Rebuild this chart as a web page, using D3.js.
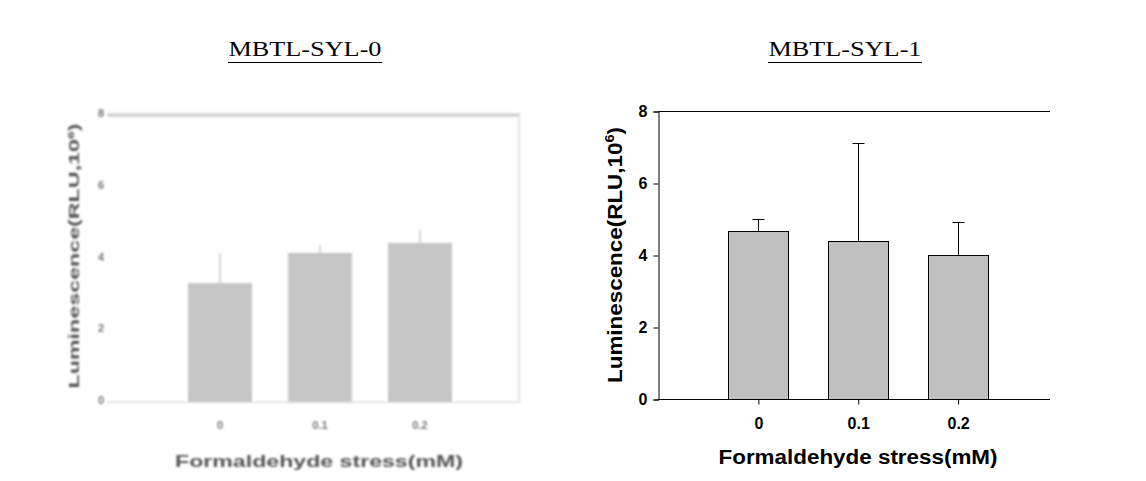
<!DOCTYPE html>
<html>
<head>
<meta charset="utf-8">
<script src="https://cdn.jsdelivr.net/npm/d3@7"></script>
<style>
  body { margin: 0; background: #fff; }
  svg { display: block; }
</style>
</head>
<body>
<svg id="chart" width="1146" height="481"></svg>
<script>
// data
var doses = ["0", "0.1", "0.2"];
var yTicks = [0, 2, 4, 6, 8];
var syl0Mean = [3.26, 4.10, 4.38];
var syl0Err = [0.84, 0.22, 0.36];
var syl1Mean = [4.68, 4.41, 4.02];
var syl1Err = [0.34, 2.72, 0.91];

var svg = d3.select("#chart");

// blur so the left panel looks like the pasted low-res image
var defs = svg.append("defs");
defs.append("filter").attr("id", "fuzz")
    .attr("x", "-5%").attr("y", "-5%").attr("width", "110%").attr("height", "110%")
  .append("feGaussianBlur").attr("stdDeviation", 0.9);

// panel titles
function title(txt, cx) {
  svg.append("text")
      .attr("x", cx).attr("y", 56)
      .attr("text-anchor", "middle")
      .style("font-family", "'Liberation Serif', 'DejaVu Serif', serif")
      .style("font-size", "20px")
      .attr("textLength", 153)
      .attr("lengthAdjust", "spacingAndGlyphs")
      .text(txt);
  svg.append("line")
      .attr("x1", cx - 77).attr("x2", cx + 77)
      .attr("y1", 62.5).attr("y2", 62.5)
      .attr("stroke", "#000").attr("stroke-width", 1);
}
title("MBTL-SYL-0", 305);
title("MBTL-SYL-1", 845);

// ---------- left panel (faded scan) ----------
var yL = d3.scaleLinear().domain([0, 8]).range([400, 113]);
var xL = d3.scaleLinear().domain([-1.13, 3]).range([107, 520]);
var gL = svg.append("g").attr("filter", "url(#fuzz)");

gL.append("line").attr("x1", 107).attr("x2", 520).attr("y1", yL(8) + 2).attr("y2", yL(8) + 2)
    .attr("stroke", "#cbcbcb").attr("stroke-width", 3);
gL.append("line").attr("x1", 519).attr("x2", 519).attr("y1", yL(8) + 2).attr("y2", 402)
    .attr("stroke", "#e2e2e2").attr("stroke-width", 2);
gL.append("line").attr("x1", 107).attr("x2", 520).attr("y1", 402).attr("y2", 402)
    .attr("stroke", "#e4e4e4").attr("stroke-width", 2);

gL.selectAll(".errL").data(doses).enter().append("line")
    .attr("x1", function(d, i) { return xL(i); })
    .attr("x2", function(d, i) { return xL(i); })
    .attr("y1", function(d, i) { return yL(syl0Mean[i]); })
    .attr("y2", function(d, i) { return yL(syl0Mean[i] + syl0Err[i]); })
    .attr("stroke", "#d6d6d6").attr("stroke-width", 2);

gL.selectAll(".barL").data(doses).enter().append("rect")
    .attr("x", function(d, i) { return xL(i - 0.32); })
    .attr("width", xL(0.32) - xL(-0.32))
    .attr("y", function(d, i) { return yL(syl0Mean[i]); })
    .attr("height", function(d, i) { return yL(0) - yL(syl0Mean[i]) + 2; })
    .attr("fill", "#c6c6c6");

gL.selectAll(".ytL").data(yTicks).enter().append("text")
    .attr("x", 101).attr("y", function(d) { return yL(d) + 4; })
    .attr("text-anchor", "middle")
    .style("font-family", "Arial, 'Liberation Sans', sans-serif")
    .style("font-size", "11px").style("font-weight", "bold")
    .attr("fill", "#777")
    .text(function(d) { return d; });

gL.selectAll(".xtL").data(doses).enter().append("text")
    .attr("x", function(d, i) { return xL(i); }).attr("y", 429)
    .attr("text-anchor", "middle")
    .style("font-family", "Arial, 'Liberation Sans', sans-serif")
    .style("font-size", "11px").style("font-weight", "bold")
    .attr("fill", "#777")
    .text(function(d) { return d; });

gL.append("text")
    .attr("x", 319).attr("y", 467)
    .attr("text-anchor", "middle")
    .style("font-family", "Arial, 'Liberation Sans', sans-serif")
    .style("font-size", "17px").style("font-weight", "bold")
    .attr("fill", "#555")
    .attr("textLength", 288).attr("lengthAdjust", "spacingAndGlyphs")
    .text("Formaldehyde stress(mM)");

var ytitL = gL.append("text")
    .attr("transform", "translate(79,256) rotate(-90)")
    .attr("text-anchor", "middle")
    .style("font-family", "Arial, 'Liberation Sans', sans-serif")
    .style("font-size", "15px").style("font-weight", "bold")
    .attr("fill", "#555")
    .attr("textLength", 265).attr("lengthAdjust", "spacingAndGlyphs");
ytitL.append("tspan").text("Luminescence(RLU,10");
ytitL.append("tspan").attr("dy", -5).style("font-size", "9px").text("6");
ytitL.append("tspan").attr("dy", 5).text(")");

// ---------- right panel ----------
var yR = d3.scaleLinear().domain([0, 8]).range([399.5, 111.5]);
var xR = d3.scaleLinear().domain([-1, 2.92]).range([658.5, 1050]);
var gR = svg.append("g");

gR.append("g")
    .attr("transform", "translate(" + xR.range()[0] + ",0)")
    .call(d3.axisLeft(yR).tickValues(yTicks).tickSize(5).tickPadding(6).tickFormat(d3.format("d")))
    .call(function(g) {
      g.select(".domain").attr("stroke", "#000");
      g.selectAll("text").style("font-family", "Arial, 'Liberation Sans', sans-serif")
        .style("font-size", "16px").style("font-weight", "bold").attr("fill", "#000");
    });

var xBand = d3.scalePoint().domain(doses).range([xR(0), xR(2)]);
gR.append("g")
    .attr("transform", "translate(0," + yR(0) + ")")
    .call(d3.axisBottom(xBand).tickSize(5).tickPadding(13).tickSizeOuter(0))
    .call(function(g) {
      g.select(".domain").remove();
      g.selectAll("text").style("font-family", "Arial, 'Liberation Sans', sans-serif")
        .style("font-size", "16px").style("font-weight", "bold").attr("fill", "#000");
    });

// frame lines: bottom and top
gR.append("line").attr("x1", xR.range()[0]).attr("x2", xR.range()[1])
    .attr("y1", yR(0)).attr("y2", yR(0)).attr("stroke", "#000");
gR.append("line").attr("x1", xR.range()[0]).attr("x2", xR.range()[1])
    .attr("y1", yR(8)).attr("y2", yR(8)).attr("stroke", "#000");

gR.selectAll(".errR").data(doses).enter().append("g").each(function(d, i) {
  var g = d3.select(this), cx = Math.round(xBand(d)) + 0.5;
  var top = Math.round(yR(syl1Mean[i] + syl1Err[i])) + 0.5;
  g.append("line").attr("x1", cx).attr("x2", cx)
      .attr("y1", yR(syl1Mean[i])).attr("y2", top).attr("stroke", "#000");
  g.append("line").attr("x1", cx - 6).attr("x2", cx + 6)
      .attr("y1", top).attr("y2", top).attr("stroke", "#000");
});

gR.selectAll(".barR").data(doses).enter().append("rect")
    .attr("x", function(d) { return Math.round(xBand(d) - 30) + 0.5; })
    .attr("width", 60)
    .attr("y", function(d, i) { return Math.round(yR(syl1Mean[i])) + 0.5; })
    .attr("height", function(d, i) { return yR(0) - Math.round(yR(syl1Mean[i])) - 0.5; })
    .attr("fill", "#c0c0c0").attr("stroke", "#000");

gR.append("text")
    .attr("x", 858).attr("y", 464)
    .attr("text-anchor", "middle")
    .style("font-family", "Arial, 'Liberation Sans', sans-serif")
    .style("font-size", "20px").style("font-weight", "bold")
    .attr("textLength", 279).attr("lengthAdjust", "spacingAndGlyphs")
    .text("Formaldehyde stress(mM)");

var ytitR = gR.append("text")
    .attr("transform", "translate(622,255) rotate(-90)")
    .attr("text-anchor", "middle")
    .style("font-family", "Arial, 'Liberation Sans', sans-serif")
    .style("font-size", "20px").style("font-weight", "bold")
    .attr("textLength", 256).attr("lengthAdjust", "spacingAndGlyphs");
ytitR.append("tspan").text("Luminescence(RLU,10");
ytitR.append("tspan").attr("dy", -8).style("font-size", "13px").text("6");
ytitR.append("tspan").attr("dy", 8).text(")");
</script>
</body>
</html>
